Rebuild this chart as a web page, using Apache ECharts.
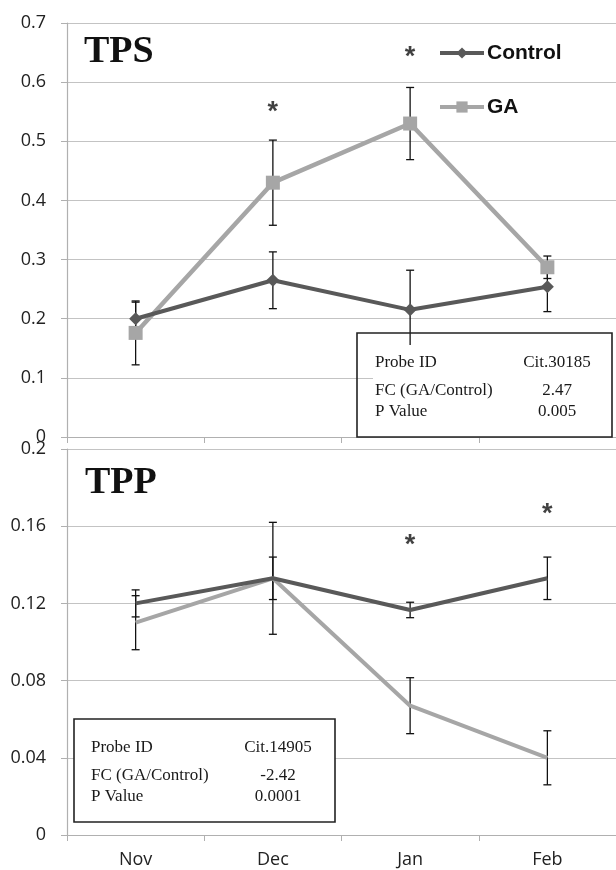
<!DOCTYPE html>
<html>
<head>
<meta charset="utf-8">
<script src="https://cdn.jsdelivr.net/npm/echarts@6/dist/echarts.min.js"></script>
<style>
html,body{margin:0;padding:0;background:#fff;}
#chart{width:616px;height:870px;}
</style>
</head>
<body>
<div id="chart"></div>
<script>
// ---- data ----
const months = ['Nov', 'Dec', 'Jan', 'Feb'];
const seriesNames = ['Control', 'GA'];

const tpsControl = [0.200, 0.265, 0.215, 0.254];
const tpsControlErr = [0.028, 0.048, 0.067, 0.042];
const tpsGA = [0.176, 0.430, 0.530, 0.287];
const tpsGAErr = [0.054, 0.072, 0.061, 0.019];
const tpsStars = [['Dec', 0.556], ['Jan', 0.649]];

const tppControl = [0.120, 0.133, 0.1166, 0.133];
const tppControlErr = [0.007, 0.011, 0.004, 0.011];
const tppGA = [0.110, 0.133, 0.067, 0.040];
const tppGAErr = [0.014, 0.029, 0.0145, 0.014];
const tppStars = [['Jan', 0.152], ['Feb', 0.168]];

const tpsTicks = ['0', '0.1', '0.2', '0.3', '0.4', '0.5', '0.6', '0.7'];
const tppTicks = ['0', '0.04', '0.08', '0.12', '0.16', '0.2'];

const boxLabels = ['Probe ID', 'FC (GA/Control)', 'P Value'];
const tpsBoxValues = ['Cit.30185', '2.47', '0.005'];
const tppBoxValues = ['Cit.14905', '-2.42', '0.0001'];
const panelTitles = ['TPS', 'TPP'];

// ---- styles ----
const cControl = '#595959';
const cGA = '#a6a6a6';
const axisGray = '#b0b0b0';
const gridGray = '#c3c3c3';
const sansFont = '"Open Sans", "Liberation Sans", sans-serif';
const serifFont = '"Liberation Serif", "DejaVu Serif", serif';

function errData(vals, errs) {
  return vals.map((v, i) => [i, v - errs[i], v + errs[i]]);
}

function errorSeries(vals, errs, xIdx, yIdx) {
  return {
    type: 'custom',
    xAxisIndex: xIdx, yAxisIndex: yIdx,
    z: 1,
    silent: true,
    data: errData(vals, errs),
    renderItem: function (params, api) {
      const x = api.value(0);
      const lo = api.coord([x, api.value(1)]);
      const hi = api.coord([x, api.value(2)]);
      const w = 4;
      const st = { stroke: '#111', lineWidth: 1.3 };
      return {
        type: 'group',
        children: [
          { type: 'line', shape: { x1: lo[0], y1: lo[1], x2: hi[0], y2: hi[1] }, style: st },
          { type: 'line', shape: { x1: lo[0] - w, y1: lo[1], x2: lo[0] + w, y2: lo[1] }, style: st },
          { type: 'line', shape: { x1: hi[0] - w, y1: hi[1], x2: hi[0] + w, y2: hi[1] }, style: st }
        ]
      };
    }
  };
}

function starSeries(data, xIdx, yIdx) {
  return {
    type: 'scatter',
    xAxisIndex: xIdx, yAxisIndex: yIdx,
    symbolSize: 0,
    silent: true,
    z: 5,
    data: data,
    label: {
      show: true, position: 'inside', formatter: '*',
      fontSize: 27, fontWeight: 'bold', fontFamily: '"Liberation Sans", sans-serif', color: '#111',
      offset: [0, 4]
    }
  };
}

function yAxisCfg(gridIndex, max, interval, ticks) {
  return {
    type: 'value', gridIndex: gridIndex, min: 0, max: max, interval: interval,
    axisLine: { show: true, lineStyle: { color: axisGray, width: 1.2 } },
    axisTick: { show: true, inside: false, length: 6, lineStyle: { color: axisGray } },
    splitLine: { show: true, lineStyle: { color: gridGray, width: 1.2 } },
    axisLabel: {
      margin: 21, fontSize: 18, fontFamily: sansFont, color: '#222',
      formatter: function (v) { return ticks[Math.round(v / interval)]; }
    }
  };
}

function xAxisCfg(gridIndex, showLabel) {
  return {
    type: 'category', gridIndex: gridIndex, data: months, boundaryGap: true,
    axisLine: { show: true, lineStyle: { color: axisGray, width: 1.2 } },
    axisTick: { show: true, length: 6, lineStyle: { color: axisGray } },
    splitLine: { show: false },
    axisLabel: { show: showLabel, margin: 16, fontSize: 18, fontFamily: sansFont, color: '#222' }
  };
}

function boxGraphics(x, y, w, h, labels, values, innerClear, labelX, valueCx, rowsY) {
  const g = [];
  g.push({
    type: 'rect', shape: { x: x, y: y, width: w, height: h },
    style: { fill: innerClear ? 'none' : '#fff', stroke: '#222', lineWidth: 1.6 }, z: 10
  });
  if (innerClear) {
    g.push({
      type: 'rect', shape: { x: labelX - 2, y: rowsY[0] - 18, width: (valueCx - labelX) * 2 + 4, height: rowsY[2] - rowsY[0] + 32 },
      style: { fill: '#fff' }, z: 9
    });
  }
  labels.forEach((t, i) => {
    g.push({ type: 'text', x: labelX, y: rowsY[i], z: 11,
      style: { text: t, font: '17px ' + serifFont, fill: '#1a1a1a', textAlign: 'left', textVerticalAlign: 'middle' } });
    g.push({ type: 'text', x: valueCx, y: rowsY[i], z: 11,
      style: { text: values[i], font: '17px ' + serifFont, fill: '#1a1a1a', textAlign: 'center', textVerticalAlign: 'middle' } });
  });
  return g;
}

const chart = echarts.init(document.getElementById('chart'), null, { renderer: 'canvas' });

const option = {
  animation: false,
  backgroundColor: '#fff',
  title: [
    { text: panelTitles[0], left: 79, top: 28, textStyle: { fontFamily: serifFont, fontWeight: 'bold', fontSize: 38, color: '#111' } },
    { text: panelTitles[1], left: 80, top: 459, textStyle: { fontFamily: serifFont, fontWeight: 'bold', fontSize: 38, color: '#111' } }
  ],
  legend: {
    data: seriesNames,
    orient: 'vertical',
    left: 438, top: 41, padding: 0,
    itemWidth: 44, itemHeight: 14, itemGap: 30,
    lineStyle: { width: 4 },
    textStyle: { fontFamily: '"Liberation Sans", sans-serif', fontWeight: 'bold', fontSize: 21, color: '#111', lineHeight: 24, padding: [0, 0, 0, -2] },
    selectedMode: false
  },
  grid: [
    { left: 67, width: 552, top: 23, height: 414 },
    { left: 67, width: 552, top: 449, height: 386 }
  ],
  xAxis: [xAxisCfg(0, false), xAxisCfg(1, true)],
  yAxis: [yAxisCfg(0, 0.7, 0.1, tpsTicks), yAxisCfg(1, 0.2, 0.04, tppTicks)],
  series: [
    errorSeries(tpsControl, tpsControlErr, 0, 0),
    errorSeries(tpsGA, tpsGAErr, 0, 0),
    {
      name: seriesNames[0], type: 'line', xAxisIndex: 0, yAxisIndex: 0, z: 3,
      data: tpsControl, symbol: 'diamond', symbolSize: 13, showAllSymbol: true,
      lineStyle: { color: cControl, width: 4 }, itemStyle: { color: cControl, borderWidth: 0 }
    },
    {
      name: seriesNames[1], type: 'line', xAxisIndex: 0, yAxisIndex: 0, z: 2,
      data: tpsGA, symbol: 'rect', symbolSize: 14, showAllSymbol: true,
      lineStyle: { color: cGA, width: 4.5 }, itemStyle: { color: cGA, borderWidth: 0 }
    },
    errorSeries(tppControl, tppControlErr, 1, 1),
    errorSeries(tppGA, tppGAErr, 1, 1),
    {
      name: seriesNames[0], type: 'line', xAxisIndex: 1, yAxisIndex: 1, z: 3,
      data: tppControl, symbol: 'none',
      lineStyle: { color: cControl, width: 4 }, itemStyle: { color: cControl }
    },
    {
      name: seriesNames[1], type: 'line', xAxisIndex: 1, yAxisIndex: 1, z: 2,
      data: tppGA, symbol: 'none',
      lineStyle: { color: cGA, width: 4 }, itemStyle: { color: cGA }
    },
    starSeries(tpsStars, 0, 0),
    starSeries(tppStars, 1, 1)
  ],
  graphic: [].concat(
    boxGraphics(357, 333, 255, 104, boxLabels, tpsBoxValues, true, 375, 557, [363, 391, 412]),
    boxGraphics(74, 719, 261, 103, boxLabels, tppBoxValues, false, 91, 278, [748, 776, 797])
  )
};

chart.setOption(option);
</script>
</body>
</html>
